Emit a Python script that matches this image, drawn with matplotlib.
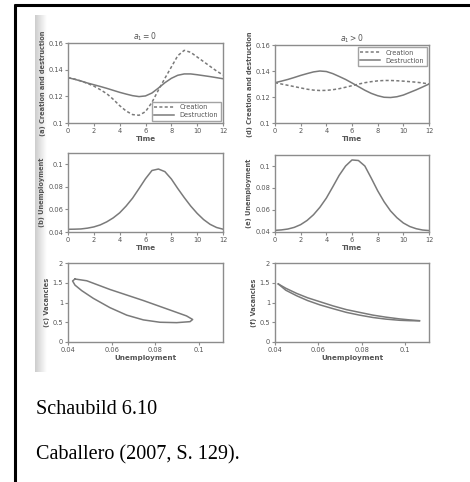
import matplotlib
matplotlib.use("Agg")
import matplotlib.pyplot as plt
import numpy as np
from matplotlib.lines import Line2D

W, H = 470, 482
GRAU = "#7a7a7a"
SPINE = "#8c8c8c"
TXT = "#555555"

# Zeitachse (halbe Quartale)
t = [0, 0.5, 1, 1.5, 2, 2.5, 3, 3.5, 4, 4.5, 5, 5.5, 6, 6.5, 7, 7.5, 8, 8.5, 9,
     9.5, 10, 10.5, 11, 11.5, 12]

# (a) a1 = 0
cre_a = [0.134, 0.133, 0.1315, 0.1297, 0.1277, 0.125, 0.122, 0.1178, 0.113, 0.109,
         0.1063, 0.1058, 0.1085, 0.1155, 0.1247, 0.1335, 0.142, 0.1505, 0.1545,
         0.153, 0.1495, 0.146, 0.1425, 0.139, 0.136]
des_a = [0.134, 0.1328, 0.1315, 0.130, 0.1287, 0.1274, 0.126, 0.1245, 0.123, 0.1217,
         0.1205, 0.1198, 0.1203, 0.1225, 0.1262, 0.1302, 0.1335, 0.1358, 0.1368,
         0.1368, 0.1362, 0.1355, 0.1348, 0.134, 0.1332]

# (d) a1 > 0
cre_d = [0.131, 0.130, 0.129, 0.128, 0.127, 0.126, 0.1253, 0.125, 0.1251, 0.1256,
         0.1264, 0.1275, 0.1287, 0.1299, 0.131, 0.1318, 0.1324, 0.1327, 0.1327,
         0.1325, 0.1322, 0.1318, 0.1314, 0.1308, 0.130]
des_d = [0.131, 0.1322, 0.1335, 0.135, 0.1366, 0.138, 0.1393, 0.140, 0.1396, 0.138,
         0.1358, 0.1335, 0.1308, 0.128, 0.1252, 0.1228, 0.121, 0.1198, 0.1196,
         0.1202, 0.1215, 0.1235, 0.1255, 0.1277, 0.130]

# (b), (e) Arbeitslosigkeit
u_b = [0.0424, 0.0425, 0.0427, 0.0434, 0.0445, 0.0463, 0.049, 0.0525, 0.057, 0.063,
       0.070, 0.0785, 0.0872, 0.0945, 0.0958, 0.0935, 0.0870, 0.0785, 0.0705,
       0.0630, 0.0565, 0.0510, 0.0468, 0.0440, 0.0425]
u_e = [0.0415, 0.0419, 0.0427, 0.0442, 0.0467, 0.0505, 0.0557, 0.0625, 0.0708,
       0.0810, 0.0915, 0.1000, 0.1055, 0.1050, 0.1000, 0.0890, 0.0775, 0.0675,
       0.0592, 0.0530, 0.0482, 0.0450, 0.0430, 0.0418, 0.0413]

# (c) Beveridge-Schleife
u_c = [0.0432, 0.0486, 0.0592, 0.0745, 0.0867, 0.0943, 0.0971, 0.0959, 0.0898,
       0.0821, 0.0745, 0.0669, 0.0592, 0.0516, 0.0463, 0.0432, 0.0421, 0.0432]
v_c = [1.595, 1.55, 1.33, 1.05, 0.81, 0.66, 0.57, 0.515, 0.49, 0.50, 0.56, 0.68,
       0.87, 1.105, 1.30, 1.44, 1.545, 1.595]

# (f) fast deckungsgleiche Kurven
u_f = [0.0415, 0.045, 0.050, 0.055, 0.0607, 0.067, 0.0729, 0.079, 0.0852, 0.091,
       0.0974, 0.102, 0.1066]
v_f1 = [1.47, 1.36, 1.23, 1.12, 1.02, 0.91, 0.82, 0.75, 0.68, 0.63, 0.585, 0.56, 0.54]
v_f2 = [1.47, 1.31, 1.17, 1.05, 0.94, 0.84, 0.75, 0.68, 0.62, 0.58, 0.55, 0.54, 0.535]

fig = plt.figure(figsize=(W / 100, H / 100), dpi=100)
bg = fig.add_axes([0, 0, 1, 1]); bg.axis("off")

# Scan-Hintergrund: grauer Streifen links (Buchfalz)
grad = np.linspace(0.80, 1.0, 60).reshape(1, -1)
bg.imshow(grad, extent=[35, 47, 372, 15], cmap="gray", vmin=0, vmax=1, aspect="auto")
bg.set_xlim(0, W); bg.set_ylim(H, 0)

# Rahmen (oben und links)
bg.plot([14, W], [4.5, 4.5], color="black", lw=2.2, solid_capstyle="butt")
bg.plot([14.5, 14.5], [4, H], color="black", lw=2.2, solid_capstyle="butt")

bg.text(36, 410, "Schaubild 6.10", fontsize=14.5, family="Liberation Serif",
        va="center", ha="left", color="black")
bg.text(36, 455, "Caballero (2007, S. 129).", fontsize=14.5, family="Liberation Serif",
        va="center", ha="left", color="black")


def panel(x0, x1, y0, y1):
    a = fig.add_axes([x0 / W, 1 - y1 / H, (x1 - x0) / W, (y1 - y0) / H])
    for s in a.spines.values():
        s.set_color(SPINE); s.set_linewidth(1.0)
    a.tick_params(labelsize=4.8, colors=SPINE, labelcolor=TXT, length=2, width=0.8, pad=1.5)
    return a


def ylab(a, s):
    a.set_ylabel(s, fontsize=4.8, weight="bold", color=TXT, labelpad=2)


def xlab(a, s):
    a.set_xlabel(s, fontsize=5.2, weight="bold", color=TXT, labelpad=1.5)


kw = dict(color=GRAU, lw=1.1)
DASH = (0, (2, 1.5))
h = [Line2D([], [], ls=DASH, **kw), Line2D([], [], **kw)]

for x0, x1, y0, cre, des, tit, lab, loc in [
        (68, 223, 43, cre_a, des_a, r"$a_1 = 0$", "(a) Creation and destruction", "lower right"),
        (275, 429, 45, cre_d, des_d, r"$a_1 > 0$", "(d) Creation and destruction", "upper right")]:
    ax = panel(x0, x1, y0, 123)
    ax.plot(t, cre, ls=DASH, **kw)
    ax.plot(t, des, **kw)
    ax.set_xlim(0, 12); ax.set_ylim(0.1, 0.16)
    ax.set_xticks(range(0, 13, 2)); ax.set_yticks([0.1, 0.12, 0.14, 0.16])
    ax.set_yticklabels(["0.1", "0.12", "0.14", "0.16"])
    ax.set_title(tit, fontsize=5.5, color=TXT, pad=2)
    ylab(ax, lab); xlab(ax, "Time")
    leg = ax.legend(h, ["Creation", "Destruction"], loc=loc, fontsize=4.8,
                    frameon=True, fancybox=False, edgecolor=SPINE, handlelength=3,
                    borderpad=0.4, labelspacing=0.3, borderaxespad=0.3)
    for tx in leg.get_texts():
        tx.set_color(TXT)

# (b), (e)
for x0, x1, y0, u, lab in [(68, 223, 153, u_b, "(b) Unemployment"),
                           (275, 429, 155, u_e, "(e) Unemployment")]:
    ax = panel(x0, x1, y0, 232)
    ax.plot(t, u, **kw)
    ax.set_xlim(0, 12); ax.set_ylim(0.04, 0.11)
    ax.set_xticks(range(0, 13, 2)); ax.set_yticks([0.04, 0.06, 0.08, 0.1])
    ax.set_yticklabels(["0.04", "0.06", "0.08", "0.1"])
    ylab(ax, lab); xlab(ax, "Time")

# (c)
ax = panel(68, 223, 263, 342)
ax.plot(u_c, v_c, **kw)
# (f)
ax2 = panel(275, 429, 263, 342)
ax2.plot(u_f, v_f1, **kw)
ax2.plot(u_f, v_f2, **kw)
for a, lab in [(ax, "(c) Vacancies"), (ax2, "(f) Vacancies")]:
    a.set_xlim(0.04, 0.111); a.set_ylim(0, 2)
    a.set_xticks([0.04, 0.06, 0.08, 0.1]); a.set_xticklabels(["0.04", "0.06", "0.08", "0.1"])
    a.set_yticks([0, 0.5, 1, 1.5, 2]); a.set_yticklabels(["0", "0.5", "1", "1.5", "2"])
    ylab(a, lab); xlab(a, "Unemployment")

fig.savefig("out.png", dpi=100, facecolor="white")
